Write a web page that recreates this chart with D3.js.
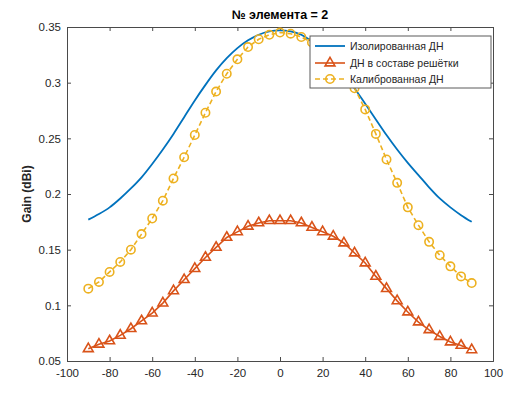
<!DOCTYPE html>
<html><head><meta charset="utf-8">
<script src="https://cdn.jsdelivr.net/npm/d3@7"></script>
<style>body{margin:0;background:#fff}svg{display:block;font-family:"Liberation Sans",Arial,sans-serif}</style>
</head><body><div id="chart"></div>
<script>
const angles = d3.range(-90, 91, 5);
const isolated = [0.177,0.182,0.188,0.196,0.205,0.215,0.227,0.240,0.254,0.269,0.284,0.298,0.311,0.322,0.331,0.338,0.343,0.346,0.347,0.346,0.343,0.337,0.329,0.319,0.308,0.295,0.281,0.267,0.253,0.240,0.228,0.217,0.206,0.196,0.188,0.181,0.175];
const inArray = [0.061,0.065,0.068,0.073,0.079,0.086,0.093,0.102,0.113,0.123,0.133,0.143,0.152,0.161,0.166,0.171,0.174,0.176,0.176,0.176,0.174,0.170,0.166,0.162,0.156,0.147,0.138,0.126,0.115,0.104,0.094,0.085,0.078,0.072,0.067,0.064,0.060];
const calibrated = [0.115,0.121,0.130,0.139,0.150,0.164,0.178,0.194,0.214,0.233,0.253,0.273,0.292,0.308,0.321,0.332,0.339,0.343,0.345,0.344,0.341,0.336,0.328,0.318,0.307,0.295,0.276,0.254,0.231,0.210,0.188,0.172,0.157,0.145,0.135,0.126,0.120];
const xTicks = [-100,-80,-60,-40,-20,0,20,40,60,80,100];
const yTicks = [0.05,0.1,0.15,0.2,0.25,0.3,0.35];
const seriesNames = ["Изолированная ДН","ДН в составе решётки","Калиброванная ДН"];
const colors = ["#0072BD","#D95319","#EDB120"];
const title = "№ элемента = 2";
const yLabel = "Gain (dBi)";

const W = 515, H = 393;
const m = {left:67, right:22, top:27, bottom:32};
const svg = d3.select("#chart").append("svg").attr("width",W).attr("height",H);
const x = d3.scaleLinear().domain([-100,100]).range([m.left, W-m.right]);
const y = d3.scaleLinear().domain([0.05,0.35]).range([H-m.bottom, m.top]);
const axisColor = "#4a4a4a", textColor = "#262626";

const gx = svg.append("g").attr("transform",`translate(0,${H-m.bottom})`)
  .call(d3.axisBottom(x).tickValues(xTicks).tickSize(-4).tickPadding(8).tickFormat(d=>String(d)));
const gxt = svg.append("g").attr("transform",`translate(0,${m.top})`)
  .call(d3.axisTop(x).tickValues(xTicks).tickSize(-4).tickFormat(""));
const gy = svg.append("g").attr("transform",`translate(${m.left},0)`)
  .call(d3.axisLeft(y).tickValues(yTicks).tickSize(-4).tickPadding(6).tickFormat(d=>String(+d.toFixed(2))));
const gyr = svg.append("g").attr("transform",`translate(${W-m.right},0)`)
  .call(d3.axisRight(y).tickValues(yTicks).tickSize(-4).tickFormat(""));
[gx,gxt,gy,gyr].forEach(g=>{
  g.selectAll("path,line").attr("stroke",axisColor).attr("stroke-width",1);
  g.selectAll("text").attr("fill",textColor).attr("font-size","11.5px").attr("font-family","'Liberation Sans',Arial,sans-serif");
});

const data = angles.map((a,i)=>({a, iso:isolated[i], arr:inArray[i], cal:calibrated[i]}));
const plot = svg.append("g");
const line = key => d3.line().x(d=>x(d.a)).y(d=>y(d[key]));

plot.append("path").datum(data).attr("d", line("iso").curve(d3.curveMonotoneX))
  .attr("fill","none").attr("stroke",colors[0]).attr("stroke-width",1.8);
plot.append("path").datum(data).attr("d", line("arr"))
  .attr("fill","none").attr("stroke",colors[1]).attr("stroke-width",1.6);
plot.append("path").datum(data).attr("d", line("cal"))
  .attr("fill","none").attr("stroke",colors[2]).attr("stroke-width",1.6).attr("stroke-dasharray","5,3");

const tri = d3.symbol().type(d3.symbolTriangle).size(42);
plot.selectAll(".tri").data(data).join("path")
  .attr("transform",d=>`translate(${x(d.a)},${y(d.arr)})`)
  .attr("d",tri).attr("fill","none").attr("stroke",colors[1]).attr("stroke-width",1.6);
plot.selectAll(".circ").data(data).join("circle")
  .attr("cx",d=>x(d.a)).attr("cy",d=>y(d.cal)).attr("r",4.2)
  .attr("fill","none").attr("stroke",colors[2]).attr("stroke-width",1.6);

svg.append("text").attr("x",x(0)).attr("y",19).attr("text-anchor","middle")
  .attr("font-weight","bold").attr("font-size","12.5px").attr("fill","#000").text(title);
svg.append("text").attr("transform",`translate(31,${(m.top+H-m.bottom)/2}) rotate(-90)`)
  .attr("text-anchor","middle").attr("font-weight","bold").attr("font-size","12px").attr("fill",textColor).text(yLabel);

const lg = svg.append("g");
const lx = 310, ly = 36, lw = 181, lh = 52;
lg.append("rect").attr("x",lx).attr("y",ly).attr("width",lw).attr("height",lh)
  .attr("fill","#fff").attr("stroke","#5a5a5a").attr("stroke-width",1);
const rows = [46,63,79];
seriesNames.forEach((name,i)=>{
  const yy = rows[i];
  const l = lg.append("line").attr("x1",lx+5).attr("x2",lx+35).attr("y1",yy).attr("y2",yy)
    .attr("stroke",colors[i]).attr("stroke-width",i===0?1.8:1.6);
  if(i===2) l.attr("stroke-dasharray","5,3");
  if(i===1) lg.append("path").attr("transform",`translate(${lx+20},${yy})`).attr("d",tri)
    .attr("fill","none").attr("stroke",colors[1]).attr("stroke-width",1.6);
  if(i===2) lg.append("circle").attr("cx",lx+20).attr("cy",yy).attr("r",4.2)
    .attr("fill","none").attr("stroke",colors[2]).attr("stroke-width",1.6);
  lg.append("text").attr("x",lx+40).attr("y",yy).attr("dy","0.35em")
    .attr("font-size","10.5px").attr("fill",textColor).text(name);
});
</script></body></html>
